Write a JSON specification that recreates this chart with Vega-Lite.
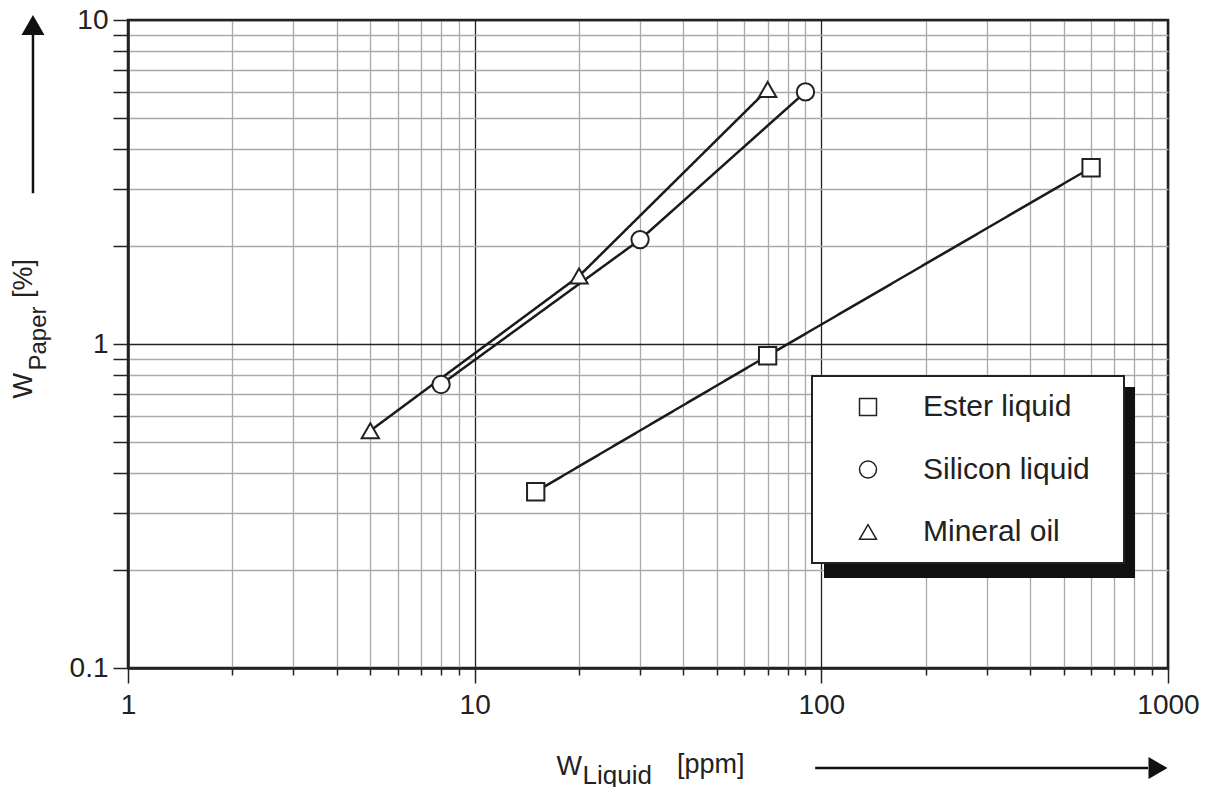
{
  "$schema": "https://vega.github.io/schema/vega-lite/v6.json",
  "width": 1040,
  "height": 648,
  "autosize": {"type": "none"},
  "padding": {"left": 128, "top": 20, "right": 42, "bottom": 119},
  "background": "white",
  "title": {
    "text": "[ppm]", "orient": "bottom", "anchor": "start", "frame": "group",
    "font": "Liberation Sans", "fontSize": 27, "fontWeight": "normal", "color": "#222",
    "dx": 549, "dy": -15, "offset": 0, "baseline": "alphabetic"
  },
  "config": {
    "font": "Liberation Sans",
    "view": {"stroke": "#222", "strokeWidth": 2.5},
    "legend": {"strokeWidth": 2},
    "axis": {"labelFont": "Liberation Sans", "titleFont": "Liberation Sans", "labelColor": "#222", "titleColor": "#222", "titleFontWeight": "normal"}
  },
  "datasets": {
    "meas": [
      {"liquid": "Ester liquid", "w_liquid": 15, "w_paper": 0.35},
      {"liquid": "Ester liquid", "w_liquid": 70, "w_paper": 0.92},
      {"liquid": "Ester liquid", "w_liquid": 600, "w_paper": 3.5},
      {"liquid": "Silicon liquid", "w_liquid": 8, "w_paper": 0.75},
      {"liquid": "Silicon liquid", "w_liquid": 30, "w_paper": 2.1},
      {"liquid": "Silicon liquid", "w_liquid": 90, "w_paper": 6.0},
      {"liquid": "Mineral oil", "w_liquid": 5, "w_paper": 0.54},
      {"liquid": "Mineral oil", "w_liquid": 20, "w_paper": 1.62},
      {"liquid": "Mineral oil", "w_liquid": 70, "w_paper": 6.1}
    ]
  },
  "data": {"name": "meas"},
  "resolve": {"axis": {"x": "independent", "y": "independent"}},
  "layer": [
    {
      "mark": {"type": "line", "color": "#1a1a1a", "strokeWidth": 2.5},
      "encoding": {
        "x": {
          "field": "w_liquid", "type": "quantitative",
          "scale": {"type": "log", "domain": [1, 1000], "nice": false},
          "axis": {
            "orient": "bottom",
            "values": [1,2,3,4,5,6,7,8,9,10,20,30,40,50,60,70,80,90,100,200,300,400,500,600,700,800,900,1000],
            "labelExpr": "indexof([1,10,100,1000], datum.value) >= 0 ? datum.value + '' : ''",
            "labelFontSize": 28, "labelPadding": 8, "labelOverlap": false, "labelFlush": false, "labelBound": false,
            "grid": true,
            "gridColor": {"condition": {"test": "indexof([1,10,100,1000], datum.value) >= 0", "value": "#222"}, "value": "#aaaaaa"},
            "gridWidth": 1.3,
            "tickSize": {"condition": {"test": "indexof([1,10,100,1000], datum.value) >= 0", "value": 15}, "value": 7},
            "tickColor": "#222", "tickWidth": 1.5,
            "domainColor": "#222", "domainWidth": 2.5,
            "title": "W",
            "titleFontSize": 27, "titleX": 428, "titleY": 106, "titleAlign": "left", "titleAnchor": "start", "titleBaseline": "alphabetic", "titleAngle": 0
          }
        },
        "y": {
          "field": "w_paper", "type": "quantitative",
          "scale": {"type": "log", "domain": [0.1, 10], "nice": false},
          "axis": {
            "orient": "left",
            "values": [0.1,0.2,0.3,0.4,0.5,0.6,0.7,0.8,0.9,1,2,3,4,5,6,7,8,9,10],
            "labelExpr": "indexof([0.1,1,10], datum.value) >= 0 ? datum.value + '' : ''",
            "labelFontSize": 28, "labelPadding": 5, "labelOverlap": false, "labelFlush": false, "labelBound": false,
            "grid": true,
            "gridColor": {"condition": {"test": "indexof([0.1,1,10], datum.value) >= 0", "value": "#222"}, "value": "#aaaaaa"},
            "gridWidth": 1.3,
            "tickSize": 15, "tickColor": "#222", "tickWidth": 1.5,
            "domainColor": "#222", "domainWidth": 2.5,
            "title": "W\u00a0\u00a0\u00a0\u00a0\u00a0\u00a0\u00a0\u00a0\u00a0\u00a0[%]",
            "titleFontSize": 27, "titleX": -97, "titleY": 378, "titleAlign": "left", "titleAnchor": "start", "titleBaseline": "alphabetic", "titleAngle": 270
          }
        },
        "strokeDash": {
          "field": "liquid", "type": "nominal",
          "scale": {"domain": ["Mineral oil", "Silicon liquid", "Ester liquid"], "range": [[1, 0], [1, 0], [1, 0]]},
          "legend": {
            "title": null, "orient": "none", "legendX": 697, "legendY": 368, "zindex": 1,
            "fillColor": "#111", "strokeColor": "#111", "padding": 14,
            "symbolSize": 1024, "symbolOffset": 26, "symbolOpacity": 0,
            "labelExpr": "''", "labelOffset": 221, "labelFontSize": 29,
            "rowPadding": 32.5
          }
        }
      }
    },
    {
      "mark": {"type": "point", "filled": true, "fill": "white", "stroke": "#222", "strokeWidth": 2, "size": 300, "opacity": 1},
      "encoding": {
        "x": {
          "field": "w_liquid", "type": "quantitative",
          "scale": {"type": "log", "domain": [1, 1000], "nice": false},
          "axis": {
            "orient": "top", "domain": false, "ticks": false, "labels": false, "grid": false,
            "title": "Liquid", "titleFontSize": 26, "titleX": 454, "titleY": 763,
            "titleAlign": "left", "titleAnchor": "start", "titleBaseline": "alphabetic", "titleAngle": 0
          }
        },
        "y": {
          "field": "w_paper", "type": "quantitative",
          "scale": {"type": "log", "domain": [0.1, 10], "nice": false},
          "axis": {
            "orient": "right", "domain": false, "ticks": false, "labels": false, "grid": false,
            "title": "Paper", "titleFontSize": 24, "titleX": -1123, "titleY": 350,
            "titleAlign": "left", "titleAnchor": "start", "titleBaseline": "alphabetic", "titleAngle": 270
          }
        },
        "shape": {
          "field": "liquid", "type": "nominal",
          "scale": {"domain": ["Ester liquid", "Silicon liquid", "Mineral oil"], "range": ["square", "circle", "triangle-up"]},
          "legend": {
            "title": "\u00a0", "titleOrient": "right", "titlePadding": 18, "titleFontSize": 29,
            "orient": "none", "legendX": 684, "legendY": 356, "zindex": 2,
            "fillColor": "white", "strokeColor": "#222", "padding": 16,
            "symbolSize": 289, "symbolOffset": 25,
            "labelFontSize": 30, "labelFont": "Liberation Sans", "labelColor": "#222", "labelOffset": 40, "labelLimit": 400,
            "rowPadding": 32.5
          }
        }
      }
    },
    {
      "data": {"values": [{}]},
      "mark": {"type": "rule", "color": "#111", "strokeWidth": 2.5},
      "encoding": {
        "x": {"datum": 96, "type": "quantitative", "scale": {"type": "log", "domain": [1, 1000], "nice": false}, "axis": null},
        "x2": {"datum": 876},
        "y": {"datum": 0.0491, "type": "quantitative", "scale": {"type": "log", "domain": [0.1, 10], "nice": false}, "axis": null}
      }
    },
    {
      "data": {"values": [{}]},
      "mark": {"type": "point", "shape": "triangle-right", "filled": true, "color": "#111", "size": 484, "opacity": 1},
      "encoding": {
        "x": {"datum": 936, "type": "quantitative", "scale": {"type": "log", "domain": [1, 1000], "nice": false}, "axis": null},
        "y": {"datum": 0.0491, "type": "quantitative", "scale": {"type": "log", "domain": [0.1, 10], "nice": false}, "axis": null}
      }
    },
    {
      "data": {"values": [{}]},
      "mark": {"type": "rule", "color": "#111", "strokeWidth": 2.5},
      "encoding": {
        "x": {"datum": 0.532, "type": "quantitative", "scale": {"type": "log", "domain": [1, 1000], "nice": false}, "axis": null},
        "y": {"datum": 2.92, "type": "quantitative", "scale": {"type": "log", "domain": [0.1, 10], "nice": false}, "axis": null},
        "y2": {"datum": 9.0}
      }
    },
    {
      "data": {"values": [{}]},
      "mark": {"type": "point", "shape": "triangle-up", "filled": true, "color": "#111", "size": 529, "opacity": 1},
      "encoding": {
        "x": {"datum": 0.532, "type": "quantitative", "scale": {"type": "log", "domain": [1, 1000], "nice": false}, "axis": null},
        "y": {"datum": 9.65, "type": "quantitative", "scale": {"type": "log", "domain": [0.1, 10], "nice": false}, "axis": null}
      }
    }
  ]
}
